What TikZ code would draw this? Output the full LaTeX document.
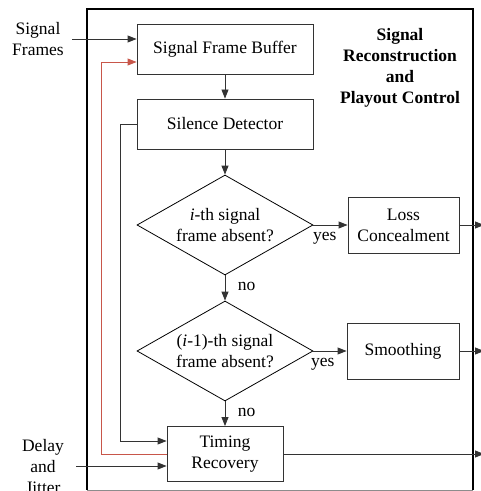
\documentclass[tikz,border=0pt]{standalone}
\usepackage{fontspec}
\setmainfont{Liberation Serif}
\usetikzlibrary{arrows.meta, shapes.geometric, calc}
\definecolor{fbred}{HTML}{C8564A}
\definecolor{lined}{HTML}{333333}

\begin{document}
\begin{tikzpicture}[x=1pt, y=1pt,
    font=\fontsize{17.5}{21}\selectfont,
    blk/.style={draw=lined, line width=0.9pt, align=center, inner sep=0pt},
    dec/.style={draw=black, line width=0.8pt, shape=diamond, aspect=1.75,
                align=center, inner sep=0pt, minimum width=176, minimum height=100},
    flow/.style={-{Triangle[length=9pt, width=7pt]}, line width=0.9pt, draw=lined}]
  \useasboundingbox (0,0) rectangle (481,491);
  % outer frame
  \draw[line width=2pt] (87,1) -- (87,482) -- (473,482) -- (473,1);
  \draw[line width=0.8pt, black!45] (87,1) -- (473,1);
  \node[font=\fontsize{17.5}{21}\selectfont\bfseries, align=center] (title) at (400,423)
       {Signal\\Reconstruction\\and\\Playout Control};
  % main column
  \node[blk, minimum width=176, minimum height=50] (buf) at (225,442) {Signal Frame Buffer};
  \node[blk, minimum width=176, minimum height=50] (sil) at (225,367) {Silence Detector};
  \node[dec] (d1) at (225,266) {\textit{i}-th signal\\frame absent?};
  \node[dec] (d2) at (225,140) {(\textit{i}-1)-th signal\\frame absent?};
  \node[blk, minimum width=116, minimum height=55] (tim) at (225,37) {Timing\\Recovery};
  % side boxes
  \node[blk, minimum width=111, minimum height=56] (loss) at (403.5,266) {Loss\\Concealment};
  \node[blk, minimum width=112, minimum height=56] (smo) at (403,140) {Smoothing};
  % outside labels
  \node[align=center] (sf) at (38,452) {Signal\\Frames};
  \node[align=center] (dj) at (43,24) {Delay\\and\\Jitter};
  % connectors
  \draw[flow] (72,452) -- (buf.west |- 0,452);
  \draw[flow] (buf) -- (sil);
  \draw[flow] (sil) -- (d1);
  \draw[flow] (d1) -- node[pos=0.45, right=9pt]{no} (d2);
  \draw[flow] (d2) -- node[pos=0.45, right=9pt]{no} (tim);
  \draw[flow] (d1.east) -- node[pos=0.33, below=3pt]{yes} (loss.west);
  \draw[flow] (d2.east) -- node[pos=0.28, below=3pt]{yes} (smo.west);
  \draw[flow] (sil.west) -- (120,367) |- ($(tim.west)+(0,13)$);
  \draw[flow, draw=fbred, -{Triangle[length=9pt, width=7pt, fill=fbred]}]
        (tim.west) -- (101,37) |- ($(buf.west)+(0,-13)$);
  \draw[flow] (76,25) -- (tim.west |- 0,25);
  % outputs leaving the frame
  \foreach \src in {loss, smo, tim}
    \draw[flow] (\src.east) -- (\src.east -| 484,0);
\end{tikzpicture}
\end{document}
